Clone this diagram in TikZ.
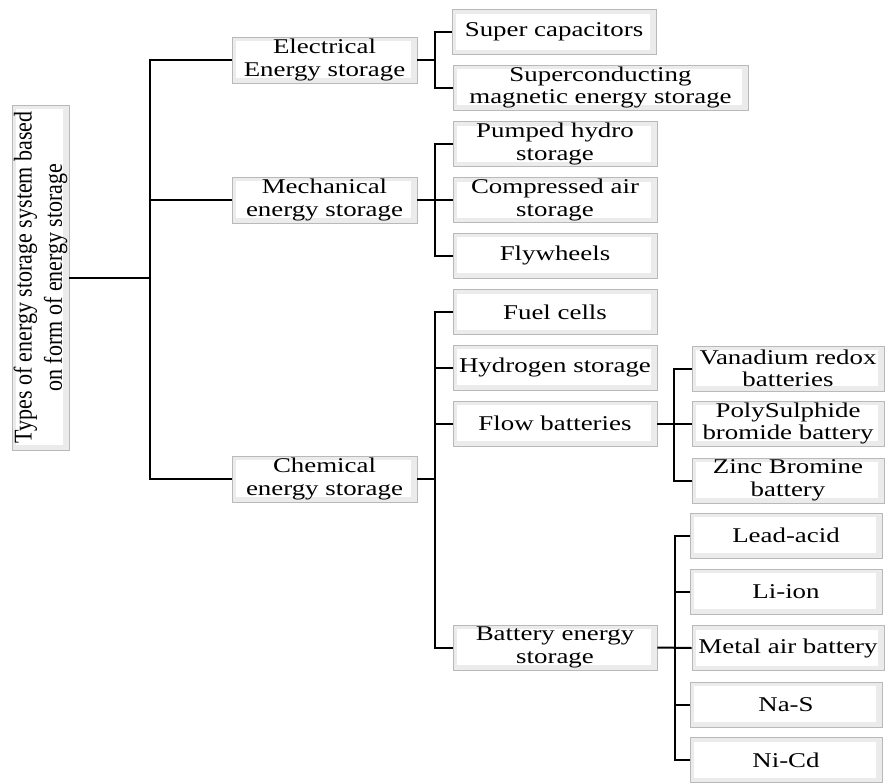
\documentclass[tikz,border=0pt]{standalone}
\usepackage{fontspec}
\setmainfont{Liberation Serif}[FakeStretch=1.28]
\newfontfamily\rootfont{Liberation Serif}
\begin{document}
\begin{tikzpicture}[x=1pt,y=-1pt,
  bevel/.style={draw=gray!55, line width=0.6pt, fill=gray!16, inner sep=0pt, align=center,
    font=\fontsize{21}{22.5}\selectfont,
    path picture={\fill[white] ([shift={(4pt,-4pt)}]path picture bounding box.north west)
       rectangle ([shift={(-6pt,5pt)}]path picture bounding box.south east);}},
  lvone/.style={bevel, minimum width=185pt, minimum height=46pt},
  lvtwo/.style={bevel, minimum width=204pt, minimum height=45pt},
  lvthree/.style={bevel, minimum width=192pt, minimum height=45pt},
  link/.style={line width=2pt, black}]
\useasboundingbox (0,0) rectangle (888,782);

% root
\node[bevel, minimum width=57pt, minimum height=343pt] (root) at (40.5,277.5)
  {\rotatebox{90}{\scalebox{1}[1.16]{\parbox{345pt}{\centering\rootfont\fontsize{22}{26}\selectfont
   Types of energy storage system based\\on form of energy storage}}}};

% first level
\node[lvone] (elec) at (324.5,60)  {Electrical\\Energy storage};
\node[lvone] (mech) at (324.5,200) {Mechanical\\energy storage};
\node[lvone] (chem) at (324.5,479) {Chemical\\energy storage};

% second level
\node[lvtwo] (supc) at (554,32)    {Super capacitors};
\node[lvtwo, minimum width=295pt] (smes) at (600.5,87.5) {Superconducting\\magnetic energy storage};
\node[lvtwo] (phs)  at (555,144)   {Pumped hydro\\storage};
\node[lvtwo] (caes) at (555,200)   {Compressed air\\storage};
\node[lvtwo] (fly)  at (555,255.5) {Flywheels};
\node[lvtwo] (fuel) at (555,312)   {Fuel cells};
\node[lvtwo] (hyd)  at (555,367.5) {Hydrogen storage};
\node[lvtwo] (flow) at (555,423.5) {Flow batteries};
\node[lvtwo] (bes)  at (555,647.5) {Battery energy\\storage};

% third level
\node[lvthree] (van)  at (788,368.5) {Vanadium redox\\batteries};
\node[lvthree] (psb)  at (788,423.5) {PolySulphide\\bromide battery};
\node[lvthree] (znbr) at (788,480.5) {Zinc Bromine\\battery};
\node[lvthree] (pb)   at (786,535.5) {Lead-acid};
\node[lvthree] (li)   at (786,591.5) {Li-ion};
\node[lvthree] (mab)  at (788,648)   {Metal air battery};
\node[lvthree] (nas)  at (786,704.5) {Na-S};
\node[lvthree] (nicd) at (786,760)   {Ni-Cd};

% branch points
\coordinate (t0) at (150,277.5);
\coordinate (eb) at ([xshift=18pt]elec.east);
\coordinate (mb) at ([xshift=18pt]mech.east);
\coordinate (cb) at ([xshift=18pt]chem.east);
\coordinate (fb) at ([xshift=17pt]flow.east);
\coordinate (bb) at ([xshift=18pt]bes.east);

% connectors
\draw[link] (root.east) -- (t0);
\draw[link] (elec.west) -| (t0) |- (chem.west);
\draw[link] (mech.west) -- (mech.west -| t0);

\draw[link] (elec.east) -- (eb);
\draw[link] (supc.west) -| (eb) |- (smes.west);

\draw[link] (mech.east) -- (mb);
\draw[link] (phs.west) -| (mb) |- (fly.west);
\draw[link] (caes.west) -- (caes.west -| mb);

\draw[link] (chem.east) -- (cb);
\draw[link] (fuel.west) -| (cb) |- (bes.west);
\draw[link] (hyd.west) -- (hyd.west -| cb);
\draw[link] (flow.west) -- (flow.west -| cb);

\draw[link] (flow.east) -- (psb.west);
\draw[link] (van.west) -| (fb) |- (znbr.west);

\draw[link] (bes.east) -- (mab.west);
\draw[link] (pb.west) -| (bb) |- (nicd.west);
\draw[link] (li.west) -- (li.west -| bb);
\draw[link] (nas.west) -- (nas.west -| bb);
\end{tikzpicture}
\end{document}
